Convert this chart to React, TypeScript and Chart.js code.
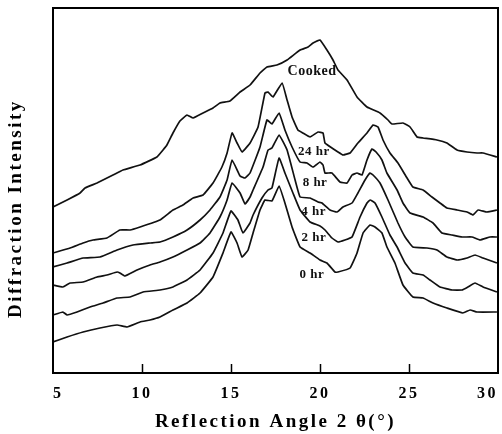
import React, { useEffect, useRef } from "react";
import { Chart, registerables } from "chart.js";

Chart.register(...registerables);

// Reflection angle 2θ (degrees) and diffraction intensity (arbitrary units) for each curve
const cookedX = [5.0, 5.79, 6.52, 6.8, 7.47, 8.37, 8.93, 9.89, 10.84, 11.18, 11.4, 11.74, 12.13, 12.53, 12.87, 13.43, 13.99, 14.38, 14.94, 15.51, 16.07, 16.63, 17.02, 17.58, 18.15, 18.88, 19.33, 19.61, 20.0, 20.39, 20.73, 21.01, 21.52, 22.08, 22.64, 23.37, 23.82, 24.04, 24.66, 25.06, 25.45, 25.79, 26.57, 27.13, 27.7, 28.26, 28.82, 29.16, 29.94];
const cookedY = [166, 173, 180, 185, 190, 198, 203, 208, 216, 223, 228, 240, 252, 258, 255, 260, 265, 270, 272, 281, 288, 300, 306, 308, 313, 323, 326, 330, 333, 323, 313, 303, 293, 276, 266, 260, 253, 249, 250, 246, 236, 235, 233, 230, 223, 221, 220, 220, 216];

const hr24X = [5.0, 5.96, 6.69, 7.25, 8.03, 8.76, 9.33, 9.89, 11.01, 11.74, 12.3, 12.87, 13.43, 13.99, 14.49, 14.78, 15.06, 15.34, 15.62, 16.07, 16.52, 16.91, 17.08, 17.36, 17.87, 18.15, 18.43, 18.76, 19.04, 19.44, 19.89, 20.17, 20.28, 20.67, 21.01, 21.29, 21.69, 22.13, 22.64, 22.98, 23.26, 23.54, 23.93, 24.38, 24.89, 25.22, 25.79, 26.29, 26.74, 27.13, 27.7, 28.26, 28.6, 28.88, 29.38, 29.94];
const hr24Y = [120, 125, 130, 133, 135, 143, 143, 146, 153, 163, 168, 175, 178, 190, 206, 220, 240, 230, 221, 230, 246, 280, 281, 276, 290, 273, 256, 243, 240, 236, 241, 240, 230, 225, 221, 218, 220, 230, 240, 248, 246, 233, 220, 210, 195, 186, 183, 176, 170, 165, 163, 161, 158, 163, 161, 163];

const hr8X = [5.0, 5.79, 6.69, 7.64, 8.6, 9.49, 10.45, 11.01, 11.74, 12.53, 13.26, 13.82, 14.38, 14.78, 15.06, 15.51, 15.79, 16.07, 16.63, 17.02, 17.3, 17.7, 18.03, 18.43, 18.88, 19.27, 19.61, 20.0, 20.17, 20.28, 20.67, 21.12, 21.52, 21.8, 22.08, 22.36, 22.64, 22.92, 23.15, 23.48, 23.76, 24.33, 24.66, 25.06, 25.79, 26.35, 26.85, 27.42, 27.98, 28.54, 28.99, 29.55, 29.94];
const hr8Y = [106, 110, 115, 116, 123, 128, 130, 131, 136, 143, 153, 163, 176, 193, 213, 197, 195, 200, 226, 253, 249, 260, 243, 226, 211, 210, 206, 211, 208, 200, 200, 191, 190, 198, 200, 198, 213, 224, 221, 213, 200, 183, 170, 160, 156, 150, 140, 138, 136, 136, 133, 136, 136];

const hr4X = [5.0, 5.56, 5.96, 6.69, 7.47, 8.03, 8.6, 8.76, 9.04, 9.72, 10.45, 11.01, 11.74, 12.53, 13.26, 13.82, 14.38, 14.78, 15.06, 15.51, 15.79, 16.07, 16.24, 16.8, 17.08, 17.3, 17.7, 18.15, 18.6, 18.88, 19.44, 19.89, 20.11, 20.56, 20.96, 21.29, 21.8, 22.13, 22.53, 22.81, 22.98, 23.37, 23.82, 24.38, 24.78, 25.22, 26.01, 26.57, 27.13, 27.7, 28.26, 28.71, 29.16, 29.94];
const hr4Y = [88, 86, 90, 91, 96, 98, 101, 100, 97, 103, 108, 111, 116, 123, 130, 140, 156, 173, 190, 180, 169, 176, 183, 206, 223, 225, 238, 223, 193, 176, 175, 171, 170, 163, 161, 166, 170, 180, 193, 200, 198, 190, 173, 150, 136, 126, 125, 123, 116, 113, 115, 118, 115, 110];

const hr2X = [5.0, 5.56, 5.79, 6.35, 7.08, 7.81, 8.6, 9.33, 10.06, 11.01, 11.74, 12.53, 13.26, 13.99, 14.55, 15.0, 15.39, 15.67, 16.07, 16.24, 16.74, 17.08, 17.3, 17.7, 18.03, 18.48, 18.88, 19.44, 20.0, 20.28, 20.67, 21.01, 21.4, 21.8, 22.25, 22.64, 22.81, 23.09, 23.48, 23.93, 24.33, 24.78, 25.22, 25.79, 26.18, 26.74, 27.42, 27.98, 28.31, 28.71, 29.16, 29.94];
const hr2Y = [58, 61, 58, 61, 66, 70, 75, 76, 81, 83, 86, 93, 103, 120, 140, 162, 153, 140, 150, 158, 175, 183, 185, 215, 200, 180, 163, 151, 147, 143, 135, 131, 133, 136, 156, 170, 173, 170, 156, 138, 126, 110, 100, 98, 93, 86, 83, 83, 86, 90, 86, 81];

const hr0X = [5.0, 5.79, 6.69, 7.64, 8.6, 9.16, 9.89, 10.45, 11.01, 11.74, 12.53, 13.26, 13.99, 14.55, 15.0, 15.34, 15.62, 15.96, 16.24, 16.63, 16.91, 17.3, 17.7, 18.03, 18.43, 18.88, 19.44, 20.0, 20.39, 20.84, 21.01, 21.69, 22.08, 22.42, 22.81, 23.09, 23.48, 23.76, 24.21, 24.66, 25.22, 25.79, 26.35, 27.13, 28.03, 28.43, 28.82, 29.94];
const hr0Y = [31, 36, 41, 45, 48, 46, 51, 53, 56, 63, 70, 80, 96, 120, 141, 130, 116, 123, 140, 163, 173, 172, 187, 170, 146, 126, 120, 113, 110, 101, 101, 105, 120, 140, 148, 146, 140, 126, 110, 88, 76, 75, 70, 65, 60, 63, 61, 61];

const seriesNames = ["Cooked", "24 hr", "8 hr", "4 hr", "2 hr", "0 hr"];
const seriesX = [cookedX, hr24X, hr8X, hr4X, hr2X, hr0X];
const seriesY = [cookedY, hr24Y, hr8Y, hr4Y, hr2Y, hr0Y];

// Curve label anchors (data units)
const labelAngle = [19.55, 19.66, 19.72, 19.64, 19.66, 19.55];
const labelIntensity = [302, 221, 190, 161, 135, 98];

const xMin = 5;
const xMax = 30;
const xStep = 5;
const innerTicks = [10, 15, 20, 25];
const yMin = 0;
const yMax = 365;

const FONT = "'Liberation Serif', 'Times New Roman', serif";

const framePlugin = {
  id: "framePlugin",
  beforeUpdate(chart: any) {
    chart.ctx.letterSpacing = "2.5px";
  },
  beforeDraw(chart: any) {
    chart.ctx.letterSpacing = "2.5px";
  },
  afterDatasetsDraw(chart: any) {
    const ctx = chart.ctx;
    const xs = chart.scales.x;
    const ys = chart.scales.y;
    ctx.save();
    ctx.letterSpacing = "0.5px";
    ctx.fillStyle = "#111";
    ctx.textAlign = "center";
    ctx.textBaseline = "middle";
    seriesNames.forEach((name, i) => {
      ctx.font = `bold ${i === 0 ? 14 : 13}px ${FONT}`;
      ctx.fillText(name, xs.getPixelForValue(labelAngle[i]), ys.getPixelForValue(labelIntensity[i]));
    });
    ctx.restore();
  },
  afterDraw(chart: any) {
    const ctx = chart.ctx;
    const a = chart.chartArea;
    const xs = chart.scales.x;
    ctx.save();
    ctx.strokeStyle = "#000";
    ctx.lineWidth = 2;
    ctx.strokeRect(a.left, a.top, a.right - a.left, a.bottom - a.top);
    ctx.lineWidth = 1.5;
    innerTicks.forEach((v) => {
      const px = Math.round(xs.getPixelForValue(v)) + 0.5;
      ctx.beginPath();
      ctx.moveTo(px, a.bottom);
      ctx.lineTo(px, a.bottom - 9);
      ctx.stroke();
    });
    ctx.restore();
  },
};

export default function App() {
  const ref = useRef<HTMLCanvasElement>(null);
  useEffect(() => {
    const canvas = ref.current;
    if (!canvas) return;
    const chart = new Chart(canvas, {
      type: "line",
      data: {
        datasets: seriesNames.map((name, i) => ({
          label: name,
          data: seriesX[i].map((x, j) => ({ x, y: seriesY[i][j] })),
          borderColor: "#111",
          borderWidth: 1.7,
          pointRadius: 0,
          tension: 0.1,
          fill: false,
        })),
      },
      options: {
        animation: false,
        responsive: false,
        devicePixelRatio: 1,
        layout: { padding: { top: 8, right: 4, left: 0, bottom: 0 } },
        plugins: { legend: { display: false }, tooltip: { enabled: false } },
        scales: {
          x: {
            type: "linear",
            min: xMin,
            max: xMax,
            grid: { display: false, drawTicks: false },
            border: { display: false },
            ticks: {
              stepSize: xStep,
              color: "#000",
              padding: 11,
              align: "inner",
              font: { family: FONT, size: 16, weight: "bold" },
            },
            title: {
              display: true,
              text: "Reflection Angle 2 θ(°)",
              color: "#000",
              font: { family: FONT, size: 19, weight: "bold" },
              padding: { top: 0, bottom: 1 },
            },
            afterFit(scale: any) {
              scale.height = 61;
              scale.paddingLeft = 0;
              scale.paddingRight = 0;
            },
          },
          y: {
            type: "linear",
            min: yMin,
            max: yMax,
            grid: { display: false, drawTicks: false },
            border: { display: false },
            ticks: { display: false },
            title: {
              display: true,
              text: "Diffraction Intensity     ",
              color: "#000",
              font: { family: FONT, size: 19, weight: "bold" },
              padding: { top: 5, bottom: 0 },
            },
            afterFit(scale: any) {
              scale.width = 53;
            },
          },
        },
      },
      plugins: [framePlugin],
    } as any);
    return () => chart.destroy();
  }, []);
  return (
    <div style={{ position: "absolute", left: 0, top: 0, width: 502, height: 434, background: "#fff" }}>
      <canvas ref={ref} width={502} height={434} style={{ display: "block" }} />
    </div>
  );
}
